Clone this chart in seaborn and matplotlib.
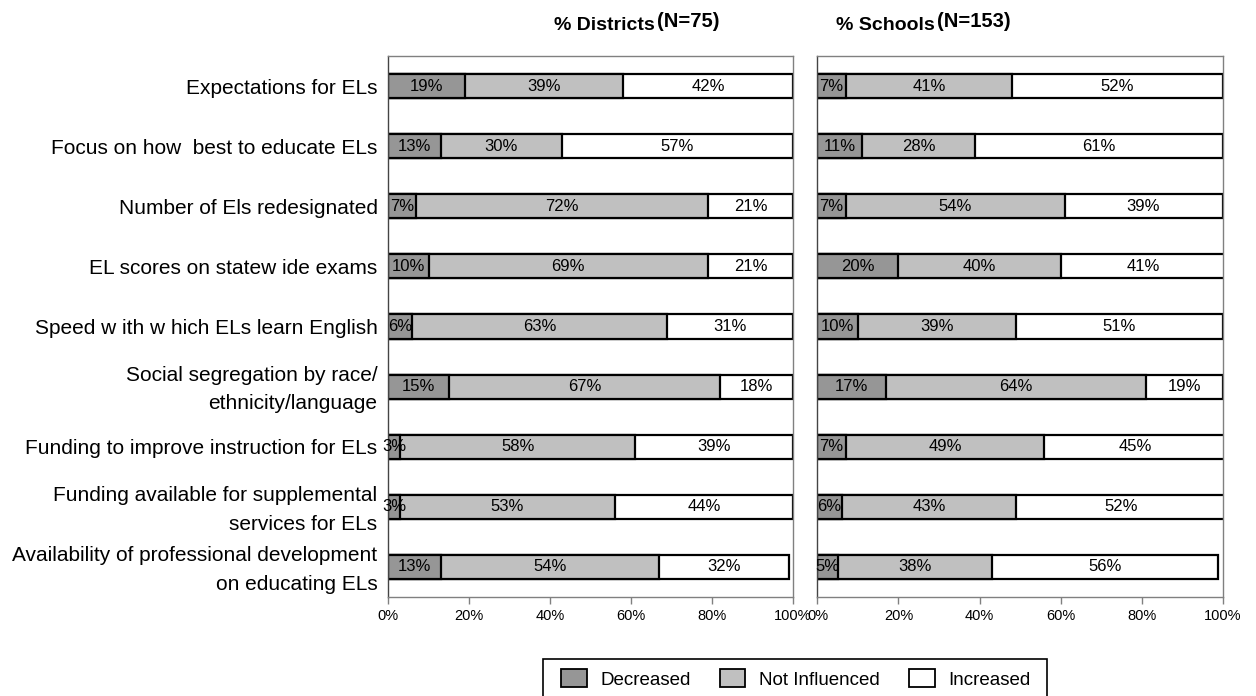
import numpy as np
import pandas as pd
import matplotlib
matplotlib.use("Agg")
import matplotlib.pyplot as plt
import matplotlib.transforms as mtransforms
import seaborn as sns
from matplotlib.patches import Patch, Rectangle

# Survey items (y categories, top to bottom)
items = [
    "Expectations for ELs",
    "Focus on how  best to educate ELs",
    "Number of Els redesignated",
    "EL scores on statew ide exams",
    "Speed w ith w hich ELs learn English",
    "Social segregation by race/\nethnicity/language",
    "Funding to improve instruction for ELs",
    "Funding available for supplemental\nservices for ELs",
    "Availability of professional development\non educating ELs",
]
responses = ["Decreased", "Not Influenced", "Increased"]

# Percent of districts (N=75)
districts_decreased = [19, 13, 7, 10, 6, 15, 3, 3, 13]
districts_not_influenced = [39, 30, 72, 69, 63, 67, 58, 53, 54]
districts_increased = [42, 57, 21, 21, 31, 18, 39, 44, 32]

# Percent of schools (N=153)
schools_decreased = [7, 11, 7, 20, 10, 17, 7, 6, 5]
schools_not_influenced = [41, 28, 54, 40, 39, 64, 49, 43, 38]
schools_increased = [52, 61, 39, 41, 51, 19, 45, 52, 56]

x_ticks = [0, 20, 40, 60, 80, 100]
x_tick_labels = ["0%", "20%", "40%", "60%", "80%", "100%"]

colors = {"Decreased": "#969696", "Not Influenced": "#c0c0c0", "Increased": "#ffffff"}

sns.set_theme(style="white")
plt.rcParams["font.family"] = ["Liberation Sans", "DejaVu Sans"]
plt.rcParams["text.color"] = "black"


def build_frame(dec, notinf, inc):
    rows = []
    for i, item in enumerate(items):
        left = 0
        for resp, v in zip(responses, (dec[i], notinf[i], inc[i])):
            rows.append({"item": item, "response": resp, "value": v,
                         "left": left, "cum": left + v})
            left += v
    return pd.DataFrame(rows)


panels = [
    build_frame(districts_decreased, districts_not_influenced, districts_increased),
    build_frame(schools_decreased, schools_not_influenced, schools_increased),
]

W, H = 1256, 696
fig = plt.figure(figsize=(W / 100, H / 100), dpi=100)
ax_l = fig.add_axes([388 / W, 1 - 597 / H, 405 / W, 541 / H])
ax_r = fig.add_axes([817.5 / W, 1 - 597 / H, 405 / W, 541 / H])

for ax, df in zip((ax_l, ax_r), panels):
    # stacked bars: draw cumulative totals from the outermost segment inward
    for resp in reversed(responses):
        sub = df[df["response"] == resp]
        sns.barplot(data=sub, x="cum", y="item", order=items, orient="h",
                    color=colors[resp], saturation=1, width=0.4,
                    edgecolor="black", linewidth=1.6, errorbar=None, ax=ax)
    for _, r in df.iterrows():
        yi = items.index(r["item"])
        ax.text(r["left"] + r["value"] / 2, yi, f"{r['value']}%",
                ha="center", va="center", fontsize=12, color="black")
    ax.set_xlim(0, 100)
    ax.set_ylim(8.5, -0.5)
    ax.set_xlabel("")
    ax.set_ylabel("")
    ax.set_xticks(x_ticks)
    ax.set_xticklabels(x_tick_labels)
    ax.tick_params(axis="x", bottom=True, direction="out", length=5, width=1,
                   color="#808080", labelsize=10.5, pad=4, labelcolor="black")
    ax.tick_params(axis="y", left=False, length=0, pad=7.5, labelsize=15,
                   labelcolor="black")
    for name, sp in ax.spines.items():
        sp.set_visible(True)
        sp.set_color("#808080")
        sp.set_linewidth(1)
    ax.spines["left"].set_color("#444444")

# two-line item labels: wider line gap, nudged slightly upward
lift = mtransforms.ScaledTranslation(0, 4 / 100, fig.dpi_scale_trans)
for lbl in ax_l.get_yticklabels():
    if "\n" in lbl.get_text():
        lbl.set_linespacing(1.65)
        lbl.set_transform(lbl.get_transform() + lift)
ax_r.set_yticklabels([])

# Panel headings
fig.text(655 / W, 1 - 30 / H, "% Districts", ha="right", va="baseline",
         fontsize=14, fontweight="bold")
fig.text(657 / W, 1 - 27 / H, "(N=75)", ha="left", va="baseline",
         fontsize=14.5, fontweight="bold")
fig.text(935 / W, 1 - 30 / H, "% Schools", ha="right", va="baseline",
         fontsize=14, fontweight="bold")
fig.text(937 / W, 1 - 27 / H, "(N=153)", ha="left", va="baseline",
         fontsize=14.5, fontweight="bold")

# Legend with a separate square frame
handles = [Patch(facecolor=colors[r], edgecolor="black", linewidth=1.3) for r in responses]
fig.legend(handles, responses, loc="center", bbox_to_anchor=(796 / W, 1 - 679 / H),
           ncol=3, frameon=False, fontsize=13.5, handlelength=1.35,
           handleheight=1.1, handletextpad=0.75, columnspacing=1.55)
fig.patches.append(Rectangle((543 / W, 1 - 710 / H), 504 / W, 51 / H,
                             transform=fig.transFigure, fill=False,
                             edgecolor="black", linewidth=1.2))

fig.savefig("out.png", dpi=100)
